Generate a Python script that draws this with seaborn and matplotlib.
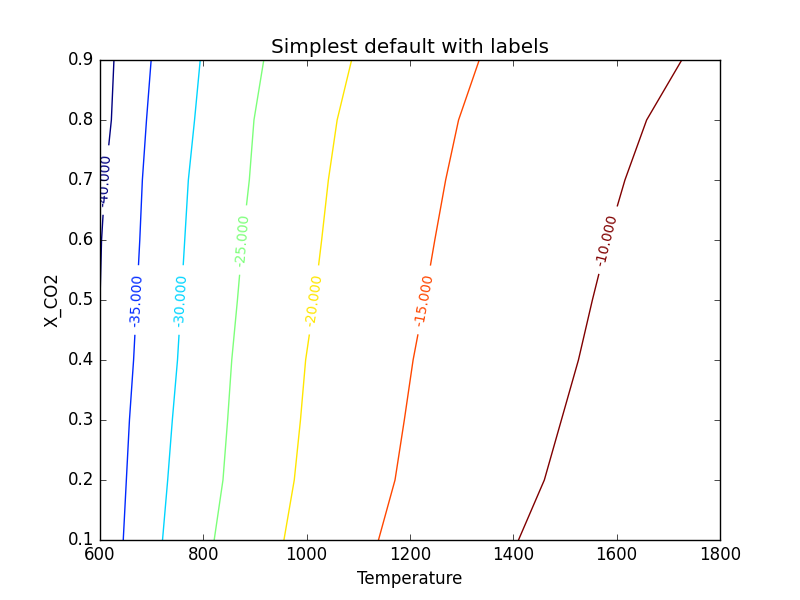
import numpy as np
import pandas as pd
import matplotlib
matplotlib.use("Agg")
import matplotlib.pyplot as plt
import seaborn as sns

# contour levels and the temperature where each level crosses X_CO2
x_co2 = [0.1, 0.2, 0.3, 0.4, 0.5, 0.6, 0.7, 0.8, 0.9]
levels = [-40, -35, -30, -25, -20, -15, -10]
t_m40 = [np.nan, np.nan, np.nan, np.nan, 600, 603, 610, 622, 627]
t_m35 = [645, 651, 657, 665, 671, 677, 682, 690, 699]
t_m30 = [721, 731, 740, 750, 757, 764, 771, 783, 794]
t_m25 = [821, 838, 847, 855, 866, 876, 889, 898, 917]
t_m20 = [956, 976, 988, 998, 1015, 1029, 1042, 1059, 1087]
t_m15 = [1139, 1171, 1189, 1206, 1228, 1248, 1269, 1294, 1334]
t_m10 = [1410, 1460, 1493, 1526, 1553, 1582, 1616, 1658, 1726]
label_y = [0.70, 0.50, 0.50, 0.60, 0.50, 0.50, 0.60]

temps = [t_m40, t_m35, t_m30, t_m25, t_m20, t_m15, t_m10]

plt.style.use("classic")

rows = []
for lev, tt in zip(levels, temps):
    for x, t in zip(x_co2, tt):
        if not np.isnan(t):
            rows.append({"Temperature": t, "X_CO2": x, "level": lev})
df = pd.DataFrame(rows)

cmap = plt.get_cmap("jet")
norm = matplotlib.colors.Normalize(vmin=min(levels), vmax=max(levels))
palette = {lev: cmap(norm(lev)) for lev in levels}

fig, ax = plt.subplots(figsize=(8, 6), dpi=100)
fig.patch.set_facecolor("white")

sns.lineplot(data=df, x="Temperature", y="X_CO2", hue="level", units="level",
             estimator=None, sort=False, palette=palette, linewidth=1,
             legend=False, ax=ax)

ax.set_xlim(600, 1800)
ax.set_ylim(0.1, 0.9)
ax.set_xticks(np.arange(600, 1801, 200))
ax.set_yticks(np.arange(0.1, 0.91, 0.1))
ax.set_title("Simplest default with labels")
ax.set_xlabel("Temperature")
ax.set_ylabel("X_CO2")

# inline contour labels
fig.canvas.draw()
for lev, tt, yl in zip(levels, temps, label_y):
    tt = np.array(tt, dtype=float)
    xx = np.array(x_co2)
    ok = ~np.isnan(tt)
    tt, xx = tt[ok], xx[ok]
    tl = np.interp(yl, xx, tt)
    i = np.searchsorted(xx, yl)
    i = min(max(i, 1), len(xx) - 1)
    p0 = ax.transData.transform((tt[i - 1], xx[i - 1]))
    p1 = ax.transData.transform((tt[i], xx[i]))
    ang = np.degrees(np.arctan2(p1[1] - p0[1], p1[0] - p0[0]))
    if ang > 90:
        ang -= 180
    ax.text(tl, yl, f"{lev:.3f}", color=palette[lev], fontsize=10,
            rotation=ang, rotation_mode="anchor", ha="center", va="center",
            zorder=2.2, clip_on=True,
            bbox=dict(boxstyle="square,pad=0.6", fc="white", ec="none"))

fig.savefig("out.png", dpi=100, facecolor="white")
